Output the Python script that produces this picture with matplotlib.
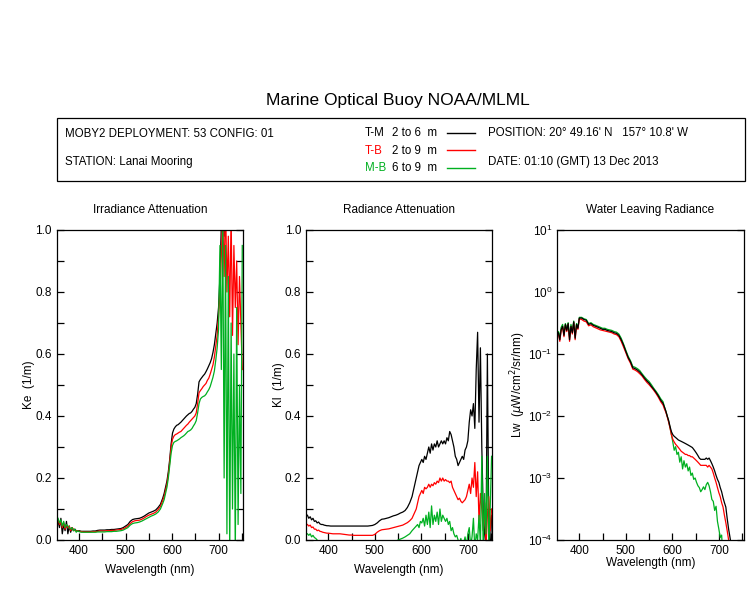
import matplotlib
matplotlib.use('Agg')
import matplotlib.pyplot as plt
import numpy as np
from matplotlib.lines import Line2D
from matplotlib.patches import Rectangle
from matplotlib.ticker import MultipleLocator, LogLocator, NullLocator

plt.rcParams['font.family'] = ['Liberation Sans', 'DejaVu Sans']

# wavelength grid (nm): noisy blue end, smooth middle, noisy red end
wl = np.concatenate([np.arange(355, 401, 3), np.arange(405, 581, 5), np.arange(583, 752, 3)])

# Irradiance attenuation Ke (1/m)
ke_tm = ([0.06, 0.04, 0.07, 0.02, 0.05, 0.03, 0.06, 0.02, 0.045, 0.025, 0.04, 0.03, 0.035, 0.03, 0.03, 0.03]
         + [0.028, 0.028, 0.028, 0.028, 0.028, 0.029, 0.029, 0.031, 0.032, 0.032, 0.032, 0.033, 0.033, 0.034, 0.034, 0.035,
            0.036, 0.037, 0.040, 0.045, 0.050, 0.060, 0.066, 0.068, 0.069, 0.070, 0.073, 0.077, 0.082, 0.087, 0.090, 0.093,
            0.097, 0.105, 0.115, 0.135]
         + [0.15, 0.17, 0.19, 0.22, 0.26, 0.31, 0.345, 0.358, 0.365, 0.37, 0.372, 0.376, 0.38, 0.385, 0.39, 0.395, 0.40,
            0.404, 0.408, 0.41, 0.415, 0.422, 0.428, 0.44, 0.47, 0.51, 0.518, 0.524, 0.53, 0.535, 0.543, 0.552, 0.562,
            0.572, 0.585, 0.605, 0.63, 0.665, 0.70, 0.75, 0.85, 1.02, 1.3, 0.98, 1.5, 1.1, 1.8, 1.3, 1.6, 1.2, 1.9, 1.4,
            2.0, 1.5, 1.7, 1.3, 1.9])
ke_tb = ([0.065, 0.05, 0.06, 0.04, 0.055, 0.035, 0.05, 0.04, 0.045, 0.03, 0.04, 0.035, 0.03, 0.03, 0.03, 0.028]
         + [0.027, 0.026, 0.026, 0.026, 0.026, 0.027, 0.027, 0.028, 0.029, 0.029, 0.029, 0.030, 0.030, 0.031, 0.031, 0.032,
            0.033, 0.034, 0.036, 0.040, 0.045, 0.053, 0.059, 0.062, 0.063, 0.064, 0.067, 0.071, 0.076, 0.080, 0.083, 0.086,
            0.090, 0.098, 0.108, 0.128]
         + [0.14, 0.16, 0.18, 0.21, 0.25, 0.30, 0.325, 0.335, 0.34, 0.342, 0.345, 0.348, 0.35, 0.355, 0.36, 0.365, 0.37,
            0.374, 0.38, 0.385, 0.39, 0.395, 0.40, 0.41, 0.44, 0.475, 0.482, 0.488, 0.495, 0.50, 0.505, 0.515, 0.522,
            0.535, 0.55, 0.565, 0.59, 0.625, 0.66, 0.72, 0.80, 0.92, 1.05, 0.85, 1.1, 0.80, 0.98, 0.72, 1.05, 0.66, 0.95,
            0.75, 0.90, 0.63, 0.85, 0.70, 0.55])
ke_mb = ([0.07, 0.055, 0.065, 0.045, 0.06, 0.04, 0.05, 0.045, 0.04, 0.035, 0.04, 0.03, 0.035, 0.025, 0.03, 0.027]
         + [0.025, 0.025, 0.025, 0.025, 0.025, 0.025, 0.025, 0.026, 0.026, 0.026, 0.026, 0.027, 0.027, 0.027, 0.028, 0.028,
            0.029, 0.030, 0.032, 0.036, 0.040, 0.048, 0.053, 0.055, 0.056, 0.058, 0.061, 0.065, 0.069, 0.073, 0.077, 0.080,
            0.084, 0.090, 0.100, 0.118]
         + [0.13, 0.15, 0.17, 0.20, 0.24, 0.28, 0.305, 0.315, 0.318, 0.32, 0.323, 0.326, 0.33, 0.333, 0.336, 0.34, 0.345,
            0.35, 0.352, 0.355, 0.36, 0.368, 0.375, 0.385, 0.41, 0.44, 0.455, 0.46, 0.463, 0.465, 0.47, 0.478, 0.485,
            0.495, 0.51, 0.525, 0.545, 0.58, 0.62, 0.68, 0.95, 0.55, 1.05, 0.20, 0.95, 0.02, 0.85, -0.05, 0.70, 0.10, 0.60,
            -0.05, 0.75, 0.05, 0.50, 0.15, 0.95])

# Radiance attenuation Kl (1/m)
kl_tm = ([0.08, 0.07, 0.075, 0.065, 0.07, 0.06, 0.062, 0.055, 0.058, 0.052, 0.05, 0.05, 0.048, 0.047, 0.046, 0.046]
         + [0.045, 0.045, 0.045, 0.045, 0.045, 0.045, 0.045, 0.045, 0.045, 0.045, 0.045, 0.045, 0.045, 0.045, 0.045, 0.045,
            0.045, 0.046, 0.047, 0.05, 0.055, 0.062, 0.067, 0.068, 0.07, 0.072, 0.075, 0.078, 0.08, 0.083, 0.087, 0.09,
            0.095, 0.105, 0.12, 0.14]
         + [0.16, 0.18, 0.20, 0.22, 0.24, 0.25, 0.26, 0.25, 0.27, 0.26, 0.28, 0.30, 0.28, 0.31, 0.29, 0.31, 0.30, 0.32,
            0.30, 0.31, 0.32, 0.31, 0.32, 0.31, 0.33, 0.32, 0.35, 0.34, 0.32, 0.30, 0.27, 0.26, 0.24, 0.25, 0.26, 0.27,
            0.26, 0.29, 0.30, 0.32, 0.38, 0.42, 0.40, 0.44, 0.36, 0.55, 0.67, 0.38, 0.62, 0.30, 0.10, 0.02, -0.02, 0.60,
            0.05, -0.05, 0.08])
kl_tb = ([0.05, 0.045, 0.048, 0.04, 0.042, 0.035, 0.035, 0.03, 0.032, 0.028, 0.027, 0.025, 0.024, 0.023, 0.022, 0.022]
         + [0.021, 0.02, 0.02, 0.02, 0.02, 0.019, 0.018, 0.017, 0.016, 0.016, 0.015, 0.015, 0.015, 0.015, 0.015, 0.015,
            0.015, 0.015, 0.015, 0.018, 0.025, 0.03, 0.033, 0.034, 0.035, 0.036, 0.038, 0.04, 0.042, 0.044, 0.046, 0.048,
            0.052, 0.056, 0.062, 0.07]
         + [0.08, 0.09, 0.10, 0.12, 0.14, 0.15, 0.16, 0.15, 0.17, 0.165, 0.17, 0.18, 0.17, 0.18, 0.175, 0.185, 0.18, 0.19,
            0.185, 0.20, 0.19, 0.20, 0.19, 0.195, 0.19, 0.19, 0.185, 0.19, 0.17, 0.16, 0.15, 0.14, 0.13, 0.135, 0.125,
            0.12, 0.125, 0.13, 0.14, 0.16, 0.18, 0.15, 0.20, 0.17, 0.25, 0.14, 0.22, 0.06, 0.15, 0.10, 0.03, 0.12, -0.02,
            0.08, 0.14, 0.03, 0.10])
kl_mb = ([0.02, 0.015, 0.02, 0.01, 0.015, 0.008, 0.005, 0.0, -0.01, -0.02, -0.02, -0.02, -0.03, -0.03, -0.03, -0.03]
         + [-0.03, -0.03, -0.03, -0.03, -0.03, -0.03, -0.03, -0.03, -0.03, -0.03, -0.03, -0.03, -0.03, -0.03, -0.03, -0.03,
            -0.03, -0.03, -0.03, -0.03, -0.025, -0.02, -0.02, -0.02, -0.018, -0.015, -0.012, -0.008, -0.004, 0.0, 0.003,
            0.006, 0.01, 0.015, 0.02, 0.03]
         + [0.035, 0.04, 0.045, 0.05, 0.04, 0.06, 0.055, 0.07, 0.045, 0.08, 0.05, 0.09, 0.04, 0.11, 0.05, 0.08, 0.06, 0.09,
            0.05, 0.10, 0.06, 0.08, 0.07, 0.06, 0.07, 0.05, 0.06, 0.03, 0.04, 0.02, 0.01, 0.015, 0.0, -0.01, 0.005, -0.02,
            -0.01, 0.01, -0.02, 0.02, 0.04, -0.02, 0.01, 0.07, -0.03, 0.02, 0.0, 0.08, -0.02, 0.27, -0.03, 0.15, 0.02,
            0.27, -0.02, 0.10, 0.27])

# Water leaving radiance Lw (uW/cm^2/sr/nm)
lw_tm = ([0.22, 0.17, 0.25, 0.28, 0.20, 0.30, 0.24, 0.31, 0.17, 0.28, 0.22, 0.33, 0.18, 0.30, 0.26, 0.38]
         + [0.38, 0.36, 0.35, 0.30, 0.31, 0.29, 0.28, 0.27, 0.26, 0.25, 0.25, 0.24, 0.235, 0.23, 0.22, 0.215, 0.20, 0.17,
            0.14, 0.11, 0.088, 0.075, 0.060, 0.058, 0.055, 0.051, 0.046, 0.041, 0.037, 0.034, 0.030, 0.027, 0.024, 0.021,
            0.018, 0.016]
         + [0.014, 0.012, 0.010, 0.0085, 0.0068, 0.0056, 0.0050, 0.0047, 0.0045, 0.0043, 0.0041, 0.0040, 0.0039, 0.0038,
            0.0037, 0.0036, 0.0035, 0.0034, 0.0033, 0.0032, 0.0031, 0.0029, 0.0027, 0.0025, 0.0023, 0.0021, 0.0020, 0.0020,
            0.0020, 0.0020, 0.0021, 0.0020, 0.0021, 0.0019, 0.0017, 0.0015, 0.0013, 0.0011, 0.00095, 0.00085, 0.00070,
            0.00060, 0.00048, 0.00040, 0.00034, 0.00022, 0.00015, 0.00011, 0.00008, 0.00006, 0.00005, 0.00004, 0.00003,
            0.00003, 0.00003, 0.00003, 0.00003])
lw_tb = ([0.21, 0.16, 0.24, 0.27, 0.19, 0.29, 0.23, 0.30, 0.16, 0.27, 0.21, 0.32, 0.17, 0.29, 0.25, 0.37]
         + [0.36, 0.34, 0.33, 0.285, 0.295, 0.275, 0.265, 0.255, 0.245, 0.24, 0.235, 0.23, 0.225, 0.22, 0.21, 0.205, 0.19,
            0.16, 0.13, 0.105, 0.084, 0.071, 0.057, 0.055, 0.052, 0.048, 0.044, 0.039, 0.035, 0.032, 0.029, 0.026, 0.023,
            0.020, 0.017, 0.015]
         + [0.013, 0.0115, 0.0097, 0.0080, 0.0064, 0.0050, 0.0042, 0.0038, 0.0035, 0.0033, 0.0031, 0.0029, 0.0027, 0.0026,
            0.0025, 0.0024, 0.0024, 0.0023, 0.0023, 0.0022, 0.0022, 0.0021, 0.0020, 0.0019, 0.0018, 0.0017, 0.0016, 0.0016,
            0.0016, 0.0016, 0.0016, 0.0015, 0.0016, 0.0015, 0.0014, 0.0012, 0.0010, 0.00085, 0.00070, 0.00058, 0.00050,
            0.00040, 0.00034, 0.00025, 0.00019, 0.00014, 0.00010, 0.00007, 0.00005, 0.00003, 0.00003, 0.00003, 0.00003,
            0.00003, 0.00003, 0.00003, 0.00003])
lw_mb = ([0.23, 0.19, 0.27, 0.30, 0.22, 0.31, 0.26, 0.32, 0.19, 0.30, 0.24, 0.34, 0.20, 0.31, 0.27, 0.39]
         + [0.39, 0.37, 0.36, 0.31, 0.32, 0.30, 0.29, 0.28, 0.27, 0.26, 0.26, 0.25, 0.245, 0.24, 0.23, 0.225, 0.21, 0.18,
            0.145, 0.115, 0.092, 0.078, 0.063, 0.061, 0.058, 0.054, 0.048, 0.043, 0.039, 0.036, 0.032, 0.028, 0.025, 0.022,
            0.019, 0.017]
         + [0.014, 0.012, 0.010, 0.0082, 0.0065, 0.0050, 0.0038, 0.0028, 0.0032, 0.0024, 0.0026, 0.0018, 0.0022, 0.0014,
            0.0019, 0.0015, 0.0017, 0.0013, 0.0015, 0.0011, 0.0012, 0.00095, 0.0010, 0.00085, 0.00075, 0.00070, 0.00060,
            0.00065, 0.00072, 0.00065, 0.00078, 0.00085, 0.00075, 0.00060, 0.00045, 0.00042, 0.00030, 0.00035, 0.00020,
            0.00015, 0.00011, 0.00012, 0.00005, 0.00003, 0.00003, 0.00003, 0.00003, 0.00003, 0.00003, 0.00003, 0.00003,
            0.00003, 0.00003, 0.00003, 0.00003, 0.00003, 0.00003])

pairs = ['T-M', 'T-B', 'M-B']
depths = ['2 to 6  m', '2 to 9  m', '6 to 9  m']
colors = ['black', '#ff0000', '#00b020']

fig = plt.figure(figsize=(7.5, 6), dpi=100)
W, H = 750.0, 600.0

def fx(px):
    return px / W

def fy(py):
    return 1 - py / H

# header
fig.text(fx(398), fy(100), 'Marine Optical Buoy NOAA/MLML', ha='center', va='center', fontsize=12.5)
fig.add_artist(Rectangle((fx(57), fy(181)), fx(745) - fx(57), fy(118) - fy(181),
                         transform=fig.transFigure, fill=False, edgecolor='black', linewidth=0.9))
fs = 8.3
fig.text(fx(65), fy(134), 'MOBY2 DEPLOYMENT: 53 CONFIG: 01', va='center', fontsize=fs)
fig.text(fx(65), fy(162), 'STATION: Lanai Mooring', va='center', fontsize=fs)
fig.text(fx(488), fy(133), "POSITION: 20\u00b0 49.16' N   157\u00b0 10.8' W", va='center', fontsize=fs)
fig.text(fx(488), fy(162), 'DATE: 01:10 (GMT) 13 Dec 2013', va='center', fontsize=fs)
for i, (p, d, c) in enumerate(zip(pairs, depths, colors)):
    yy = [133, 150.5, 168.5][i]
    fig.text(fx(365), fy(yy), p, va='center', fontsize=fs, color=c)
    fig.text(fx(392), fy(yy), d, va='center', fontsize=fs)
    fig.add_artist(Line2D([fx(447), fx(475)], [fy(yy - 0.5), fy(yy - 0.5)], transform=fig.transFigure,
                          color=c, linewidth=1))

panels = [
    ('Irradiance Attenuation', 'Ke  (1/m)', [ke_tm, ke_tb, ke_mb], 56.7),
    ('Radiance Attenuation', 'Kl  (1/m)', [kl_tm, kl_tb, kl_mb], 306),
    ('Water Leaving Radiance', r'Lw  ($\mu$W/cm$^2$/sr/nm)', [lw_tm, lw_tb, lw_mb], 557),
]

for k, (title, ylab, series, left) in enumerate(panels):
    ax = fig.add_axes([fx(left), fy(540), 186.5 / W, 310 / H])
    order = [0, 1, 2] if k < 2 else [2, 1, 0]
    for j in order:
        ax.plot(wl, series[j], color=colors[j], linewidth=0.9)
    ax.set_xlim(352, 753)
    ax.xaxis.set_major_locator(MultipleLocator(100))
    ax.xaxis.set_minor_locator(MultipleLocator(50))
    if k < 2:
        ax.set_ylim(0, 1)
        ax.yaxis.set_major_locator(MultipleLocator(0.2))
        ax.yaxis.set_minor_locator(MultipleLocator(0.1))
        ax.yaxis.set_major_formatter(plt.FuncFormatter(lambda v, pos: '%.1f' % v))
        ax.set_xlabel('Wavelength (nm)', fontsize=8.5, labelpad=5)
        ax.set_ylabel(ylab, fontsize=8.5, labelpad=0)
    else:
        ax.set_yscale('log')
        ax.set_ylim(1e-4, 10)
        ax.yaxis.set_major_locator(LogLocator(base=10, numticks=10))
        ax.yaxis.set_minor_locator(NullLocator())
        ax.set_xlabel('Wavelength (nm)', fontsize=8.5, labelpad=0)
        ax.set_ylabel(ylab, fontsize=8.5, labelpad=0)
    ax.set_title(title, fontsize=8.5, pad=12)
    ax.tick_params(which='both', direction='in', length=5, width=0.9, labelsize=8.5,
                   left=True, right=True, top=False, bottom=True)
    for s in ax.spines.values():
        s.set_linewidth(0.9)

fig.savefig('out.png', dpi=100)
